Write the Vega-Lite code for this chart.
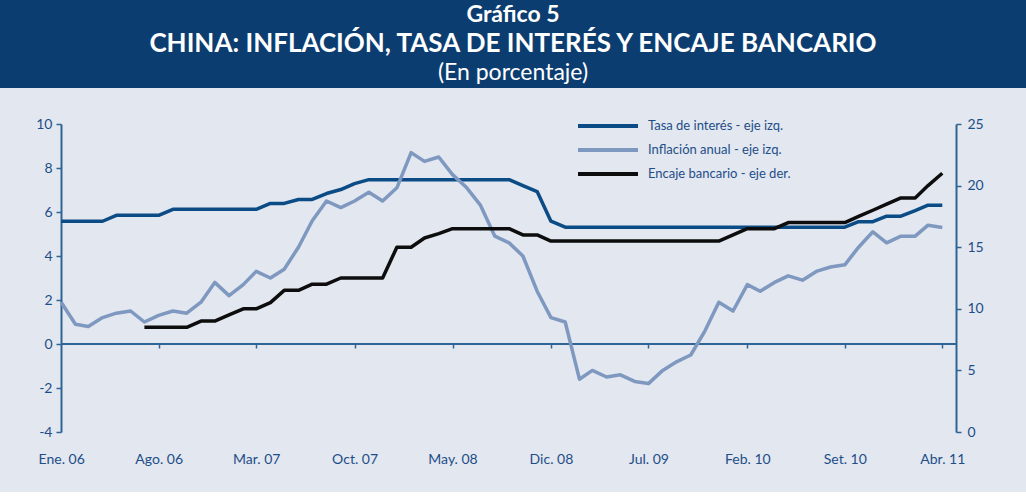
{
  "$schema": "https://vega.github.io/schema/vega-lite/v6.json",
  "background": "#e3e7ef",
  "padding": {"left": 0, "top": 0, "right": 0, "bottom": 26},
  "spacing": 29,
  "config": {"font": "Lato", "view": {"stroke": null}},
  "datasets": {
    "encabezado": [
      {"orden": 1, "texto": "Gráfico 5"},
      {"orden": 2, "texto": "CHINA: INFLACIÓN, TASA DE INTERÉS Y ENCAJE BANCARIO"},
      {"orden": 3, "texto": "(En porcentaje)"}
    ],
    "china": [
      {"fecha": "2006-01-01", "tasa": 5.58, "inflacion": 1.9, "encaje": null},
      {"fecha": "2006-02-01", "tasa": 5.58, "inflacion": 0.9, "encaje": null},
      {"fecha": "2006-03-01", "tasa": 5.58, "inflacion": 0.8, "encaje": null},
      {"fecha": "2006-04-01", "tasa": 5.58, "inflacion": 1.2, "encaje": null},
      {"fecha": "2006-05-01", "tasa": 5.85, "inflacion": 1.4, "encaje": null},
      {"fecha": "2006-06-01", "tasa": 5.85, "inflacion": 1.5, "encaje": null},
      {"fecha": "2006-07-01", "tasa": 5.85, "inflacion": 1.0, "encaje": 8.5},
      {"fecha": "2006-08-01", "tasa": 5.85, "inflacion": 1.3, "encaje": 8.5},
      {"fecha": "2006-09-01", "tasa": 6.12, "inflacion": 1.5, "encaje": 8.5},
      {"fecha": "2006-10-01", "tasa": 6.12, "inflacion": 1.4, "encaje": 8.5},
      {"fecha": "2006-11-01", "tasa": 6.12, "inflacion": 1.9, "encaje": 9.0},
      {"fecha": "2006-12-01", "tasa": 6.12, "inflacion": 2.8, "encaje": 9.0},
      {"fecha": "2007-01-01", "tasa": 6.12, "inflacion": 2.2, "encaje": 9.5},
      {"fecha": "2007-02-01", "tasa": 6.12, "inflacion": 2.7, "encaje": 10.0},
      {"fecha": "2007-03-01", "tasa": 6.12, "inflacion": 3.3, "encaje": 10.0},
      {"fecha": "2007-04-01", "tasa": 6.39, "inflacion": 3.0, "encaje": 10.5},
      {"fecha": "2007-05-01", "tasa": 6.39, "inflacion": 3.4, "encaje": 11.5},
      {"fecha": "2007-06-01", "tasa": 6.57, "inflacion": 4.4, "encaje": 11.5},
      {"fecha": "2007-07-01", "tasa": 6.57, "inflacion": 5.6, "encaje": 12.0},
      {"fecha": "2007-08-01", "tasa": 6.84, "inflacion": 6.5, "encaje": 12.0},
      {"fecha": "2007-09-01", "tasa": 7.02, "inflacion": 6.2, "encaje": 12.5},
      {"fecha": "2007-10-01", "tasa": 7.29, "inflacion": 6.5, "encaje": 12.5},
      {"fecha": "2007-11-01", "tasa": 7.47, "inflacion": 6.9, "encaje": 12.5},
      {"fecha": "2007-12-01", "tasa": 7.47, "inflacion": 6.5, "encaje": 12.5},
      {"fecha": "2008-01-01", "tasa": 7.47, "inflacion": 7.1, "encaje": 15.0},
      {"fecha": "2008-02-01", "tasa": 7.47, "inflacion": 8.7, "encaje": 15.0},
      {"fecha": "2008-03-01", "tasa": 7.47, "inflacion": 8.3, "encaje": 15.75},
      {"fecha": "2008-04-01", "tasa": 7.47, "inflacion": 8.5, "encaje": 16.1},
      {"fecha": "2008-05-01", "tasa": 7.47, "inflacion": 7.7, "encaje": 16.5},
      {"fecha": "2008-06-01", "tasa": 7.47, "inflacion": 7.1, "encaje": 16.5},
      {"fecha": "2008-07-01", "tasa": 7.47, "inflacion": 6.3, "encaje": 16.5},
      {"fecha": "2008-08-01", "tasa": 7.47, "inflacion": 4.9, "encaje": 16.5},
      {"fecha": "2008-09-01", "tasa": 7.47, "inflacion": 4.6, "encaje": 16.5},
      {"fecha": "2008-10-01", "tasa": 7.2, "inflacion": 4.0, "encaje": 16.0},
      {"fecha": "2008-11-01", "tasa": 6.93, "inflacion": 2.4, "encaje": 16.0},
      {"fecha": "2008-12-01", "tasa": 5.58, "inflacion": 1.2, "encaje": 15.5},
      {"fecha": "2009-01-01", "tasa": 5.31, "inflacion": 1.0, "encaje": 15.5},
      {"fecha": "2009-02-01", "tasa": 5.31, "inflacion": -1.6, "encaje": 15.5},
      {"fecha": "2009-03-01", "tasa": 5.31, "inflacion": -1.2, "encaje": 15.5},
      {"fecha": "2009-04-01", "tasa": 5.31, "inflacion": -1.5, "encaje": 15.5},
      {"fecha": "2009-05-01", "tasa": 5.31, "inflacion": -1.4, "encaje": 15.5},
      {"fecha": "2009-06-01", "tasa": 5.31, "inflacion": -1.7, "encaje": 15.5},
      {"fecha": "2009-07-01", "tasa": 5.31, "inflacion": -1.8, "encaje": 15.5},
      {"fecha": "2009-08-01", "tasa": 5.31, "inflacion": -1.2, "encaje": 15.5},
      {"fecha": "2009-09-01", "tasa": 5.31, "inflacion": -0.8, "encaje": 15.5},
      {"fecha": "2009-10-01", "tasa": 5.31, "inflacion": -0.5, "encaje": 15.5},
      {"fecha": "2009-11-01", "tasa": 5.31, "inflacion": 0.6, "encaje": 15.5},
      {"fecha": "2009-12-01", "tasa": 5.31, "inflacion": 1.9, "encaje": 15.5},
      {"fecha": "2010-01-01", "tasa": 5.31, "inflacion": 1.5, "encaje": 16.0},
      {"fecha": "2010-02-01", "tasa": 5.31, "inflacion": 2.7, "encaje": 16.5},
      {"fecha": "2010-03-01", "tasa": 5.31, "inflacion": 2.4, "encaje": 16.5},
      {"fecha": "2010-04-01", "tasa": 5.31, "inflacion": 2.8, "encaje": 16.5},
      {"fecha": "2010-05-01", "tasa": 5.31, "inflacion": 3.1, "encaje": 17.0},
      {"fecha": "2010-06-01", "tasa": 5.31, "inflacion": 2.9, "encaje": 17.0},
      {"fecha": "2010-07-01", "tasa": 5.31, "inflacion": 3.3, "encaje": 17.0},
      {"fecha": "2010-08-01", "tasa": 5.31, "inflacion": 3.5, "encaje": 17.0},
      {"fecha": "2010-09-01", "tasa": 5.31, "inflacion": 3.6, "encaje": 17.0},
      {"fecha": "2010-10-01", "tasa": 5.56, "inflacion": 4.4, "encaje": 17.5},
      {"fecha": "2010-11-01", "tasa": 5.56, "inflacion": 5.1, "encaje": 18.0},
      {"fecha": "2010-12-01", "tasa": 5.81, "inflacion": 4.6, "encaje": 18.5},
      {"fecha": "2011-01-01", "tasa": 5.81, "inflacion": 4.9, "encaje": 19.0},
      {"fecha": "2011-02-01", "tasa": 6.06, "inflacion": 4.9, "encaje": 19.0},
      {"fecha": "2011-03-01", "tasa": 6.31, "inflacion": 5.4, "encaje": 20.0},
      {"fecha": "2011-04-01", "tasa": 6.31, "inflacion": 5.3, "encaje": 21.0}
    ]
  },
  "vconcat": [
    {
      "width": 1026,
      "height": 88,
      "view": {"fill": "#0c3d70", "stroke": null},
      "data": {"name": "encabezado"},
      "encoding": {
        "x": {"datum": 0, "type": "quantitative", "scale": {"domain": [-1, 1]}, "axis": null},
        "y": {"field": "orden", "type": "ordinal", "axis": null, "scale": {"domain": [1, 2, 3]}},
        "text": {"field": "texto"}
      },
      "layer": [
        {
          "transform": [{"filter": "datum.orden == 1"}],
          "mark": {"type": "text", "align": "center", "baseline": "middle", "font": "Lato", "fontWeight": "bold", "fontSize": 23, "color": "#ffffff"}
        },
        {
          "transform": [{"filter": "datum.orden == 2"}],
          "mark": {"type": "text", "align": "center", "baseline": "middle", "font": "Lato", "fontWeight": "bold", "fontSize": 26, "color": "#ffffff"}
        },
        {
          "transform": [{"filter": "datum.orden == 3"}],
          "mark": {"type": "text", "align": "center", "baseline": "middle", "font": "Lato", "fontSize": 23, "color": "#ffffff"}
        }
      ]
    },
    {
      "width": 1026,
      "height": 308,
      "data": {"name": "china"},
      "transform": [{"fold": ["tasa", "inflacion", "encaje"], "as": ["serie", "valor"]}],
      "layer": [
        {
          "data": {"values": [{}]},
          "mark": {"type": "rule", "color": "#2f6496", "strokeWidth": 2},
          "encoding": {
            "x": {"datum": {"year": 2006, "month": 1, "date": 1, "utc": true}, "type": "temporal", "axis": null},
            "x2": {"datum": {"year": 2011, "month": 5, "date": 1, "utc": true}},
            "y": {"datum": 0, "type": "quantitative", "scale": {"domain": [-4, 10], "nice": false, "zero": false}, "axis": null}
          }
        },
        {
          "transform": [{"filter": "datum.serie != 'encaje'"}],
          "mark": {"type": "line", "strokeWidth": 3.5, "strokeJoin": "round"},
          "encoding": {
            "x": {
              "field": "fecha",
              "type": "temporal",
              "scale": {"type": "utc", "domain": [{"year": 2005, "month": 8, "date": 21, "utc": true}, {"year": 2011, "month": 9, "date": 30, "utc": true}]},
              "axis": {
                "orient": "bottom",
                "title": null,
                "grid": false,
                "domain": false,
                "ticks": false,
                "tickSize": 0,
                "labelPadding": 20,
                "labelFont": "Lato",
                "labelFontSize": 14,
                "labelColor": "#1d4e89",
                "labelFlush": false,
                "labelOverlap": false,
                "values": [
                  {"year": 2006, "month": 1, "date": 1, "utc": true},
                  {"year": 2006, "month": 8, "date": 1, "utc": true},
                  {"year": 2007, "month": 3, "date": 1, "utc": true},
                  {"year": 2007, "month": 10, "date": 1, "utc": true},
                  {"year": 2008, "month": 5, "date": 1, "utc": true},
                  {"year": 2008, "month": 12, "date": 1, "utc": true},
                  {"year": 2009, "month": 7, "date": 1, "utc": true},
                  {"year": 2010, "month": 2, "date": 1, "utc": true},
                  {"year": 2010, "month": 9, "date": 1, "utc": true},
                  {"year": 2011, "month": 4, "date": 1, "utc": true}
                ],
                "labelExpr": "['Ene','Feb','Mar','Abr','May','Jun','Jul','Ago','Set','Oct','Nov','Dic'][utcmonth(datum.value)] + '. ' + utcFormat(datum.value, '%y')"
              }
            },
            "y": {
              "field": "valor",
              "type": "quantitative",
              "scale": {"domain": [-4, 10], "nice": false, "zero": false},
              "axis": {
                "orient": "left",
                "offset": -61,
                "title": null,
                "grid": false,
                "values": [-4, -2, 0, 2, 4, 6, 8, 10],
                "labelExpr": "'' + datum.value",
                "domainColor": "#2f6496",
                "domainWidth": 2,
                "tickColor": "#2f6496",
                "tickWidth": 1.5,
                "tickSize": 5,
                "labelPadding": 4,
                "labelFont": "Lato",
                "labelFontSize": 14,
                "labelColor": "#1d4e89"
              }
            },
            "color": {
              "field": "serie",
              "type": "nominal",
              "scale": {"domain": ["tasa", "inflacion", "encaje"], "range": ["#0b4c86", "#7e98c0", "#0d0d0d"]},
              "legend": {
                "orient": "none",
                "legendX": 601,
                "legendY": 119,
                "title": null,
                "symbolType": "M-6,0H6",
                "symbolSize": 100,
                "symbolStrokeWidth": 4,
                "labelFont": "Lato",
                "labelFontSize": 13,
                "labelColor": "#1d4e89",
                "labelOffset": 33,
                "rowPadding": 8,
                "labelExpr": "{'tasa': 'Tasa de interés - eje izq.', 'inflacion': 'Inflación anual - eje izq.', 'encaje': 'Encaje bancario - eje der.'}[datum.value]"
              }
            }
          }
        },
        {
          "transform": [{"filter": "datum.serie == 'encaje'"}],
          "mark": {"type": "line", "strokeWidth": 3.5, "strokeJoin": "round"},
          "encoding": {
            "x": {
              "field": "fecha",
              "type": "temporal",
              "axis": {
                "orient": "bottom",
                "offset": -88,
                "title": null,
                "grid": false,
                "labels": false,
                "domain": false,
                "ticks": true,
                "tickColor": "#2f6496",
                "tickWidth": 1.5,
                "tickSize": 4,
                "values": [
                  {"year": 2006, "month": 8, "date": 1, "utc": true},
                  {"year": 2007, "month": 3, "date": 1, "utc": true},
                  {"year": 2007, "month": 10, "date": 1, "utc": true},
                  {"year": 2008, "month": 5, "date": 1, "utc": true},
                  {"year": 2008, "month": 12, "date": 1, "utc": true},
                  {"year": 2009, "month": 7, "date": 1, "utc": true},
                  {"year": 2010, "month": 2, "date": 1, "utc": true},
                  {"year": 2010, "month": 9, "date": 1, "utc": true},
                  {"year": 2011, "month": 4, "date": 1, "utc": true}
                ]
              }
            },
            "y": {
              "field": "valor",
              "type": "quantitative",
              "scale": {"domain": [0, 25], "nice": false},
              "axis": {
                "orient": "right",
                "offset": -70,
                "title": null,
                "grid": false,
                "values": [0, 5, 10, 15, 20, 25],
                "domainColor": "#2f6496",
                "domainWidth": 2,
                "tickColor": "#2f6496",
                "tickWidth": 1.5,
                "tickSize": 5,
                "labelPadding": 6,
                "labelFont": "Lato",
                "labelFontSize": 14,
                "labelColor": "#1d4e89"
              }
            },
            "color": {"field": "serie", "type": "nominal"}
          }
        }
      ],
      "resolve": {"scale": {"y": "independent"}, "axis": {"x": "independent"}}
    }
  ]
}
